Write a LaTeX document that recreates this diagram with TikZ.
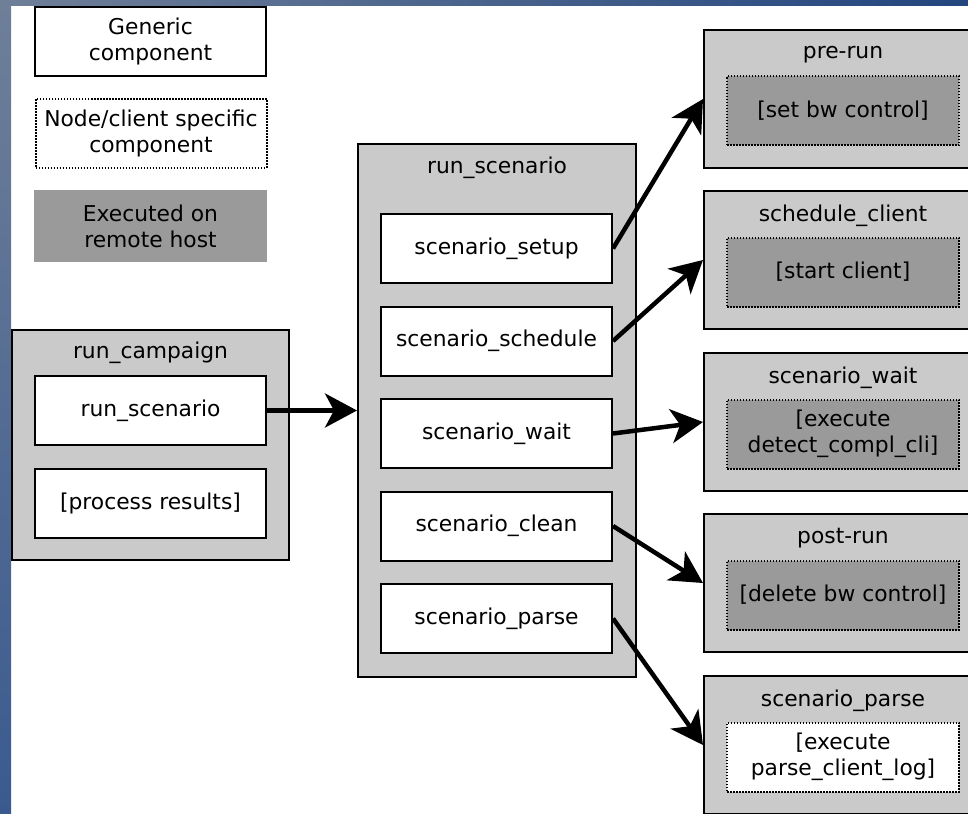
\documentclass[tikz,border=0pt]{standalone}
\usepackage{fontspec}
\setmainfont{DejaVu Sans}
\usetikzlibrary{arrows.meta}
\definecolor{framegray}{HTML}{CACACA}
\definecolor{hostgray}{HTML}{9A9A9A}
\definecolor{stripgray}{HTML}{6F7F98}
\definecolor{stripblue}{HTML}{3A5A8F}
\definecolor{stripdark}{HTML}{23467F}
\tikzset{every node/.style={draw=none,inner sep=0pt,align=center,font=\fontsize{21.8}{26}\selectfont},
  frame/.style={draw,line width=2pt,fill=framegray},
  generic/.style={draw,line width=2pt,fill=white,minimum width=231pt,minimum height=69pt},
  clienttask/.style={generic,line width=2pt,dash pattern=on 1.5pt off 1.5pt},
  hosttask/.style={clienttask,fill=hostgray},
  remote/.style={fill=hostgray,minimum width=233pt,minimum height=72pt},
  arrow/.style={line width=4.5pt,-{Stealth[length=32pt,width=34pt,inset=9pt]}}}

\begin{document}
\begin{tikzpicture}[x=1pt,y=-1pt]
\useasboundingbox (0,0) rectangle (968,813);
\clip (0,0) rectangle (968,813);
\shade[top color=stripgray,bottom color=stripblue] (0,0) rectangle (11,813);
\shade[left color=stripgray,right color=stripdark] (0,0) rectangle (968,6);

% legend
\node[generic] (generic) at (150.5,41.5) {Generic\\component};
\node[clienttask] (specific) at (151,133.5) {Node/client specific\\component};
\node[remote] (remote) at (150.5,226) {Executed on\\remote host};

% campaign
\node[frame,minimum width=277pt,minimum height=230pt] (campaign) at (150.5,445) {};
\node (campaigntitle) at (150.5,353) {run\_campaign};
\node[generic] (runsc) at (150.5,410.5) {run\_scenario};
\node[generic] (results) at (150.5,503) {[process results]};

% scenario
\node[frame,minimum width=278pt,minimum height=533pt] (scenario) at (497,410.5) {};
\node (scenariotitle) at (497,168) {run\_scenario};
\foreach \n/\t [count=\i from 0] in {setup/scenario\_setup,schedule/scenario\_schedule,wait/scenario\_wait,clean/scenario\_clean,parse/scenario\_parse}
  \node[generic] (\n) at (496.5,248.5+92.5*\i) {\t};

% steps
\foreach \n/\t/\c/\y/\s in {prerun/pre-run/{[set bw control]}/30/hosttask,
    sclient/schedule\_client/{[start client]}/191/hosttask,
    swait/scenario\_wait/{[execute\\detect\_compl\_cli]}/353/hosttask,
    postrun/post-run/{[delete bw control]}/514/hosttask,
    sparse/scenario\_parse/{[execute\\parse\_client\_log]}/676/clienttask}{
  \node[frame,minimum width=290pt,minimum height=138pt] (\n) at (849,\y+69) {};
  \node (\n-title) at (843,\y+24.5) {\t};
  \node[\s,minimum width=232pt] (\n-task) at (843,\y+81) {\c};
}

\draw[arrow] (runsc.east) -- (scenario.west);
\foreach \a/\b in {setup/prerun,schedule/sclient,wait/swait,clean/postrun,parse/sparse}
  \draw[arrow] (\a.east) -- (\b.west);
\end{tikzpicture}
\end{document}
